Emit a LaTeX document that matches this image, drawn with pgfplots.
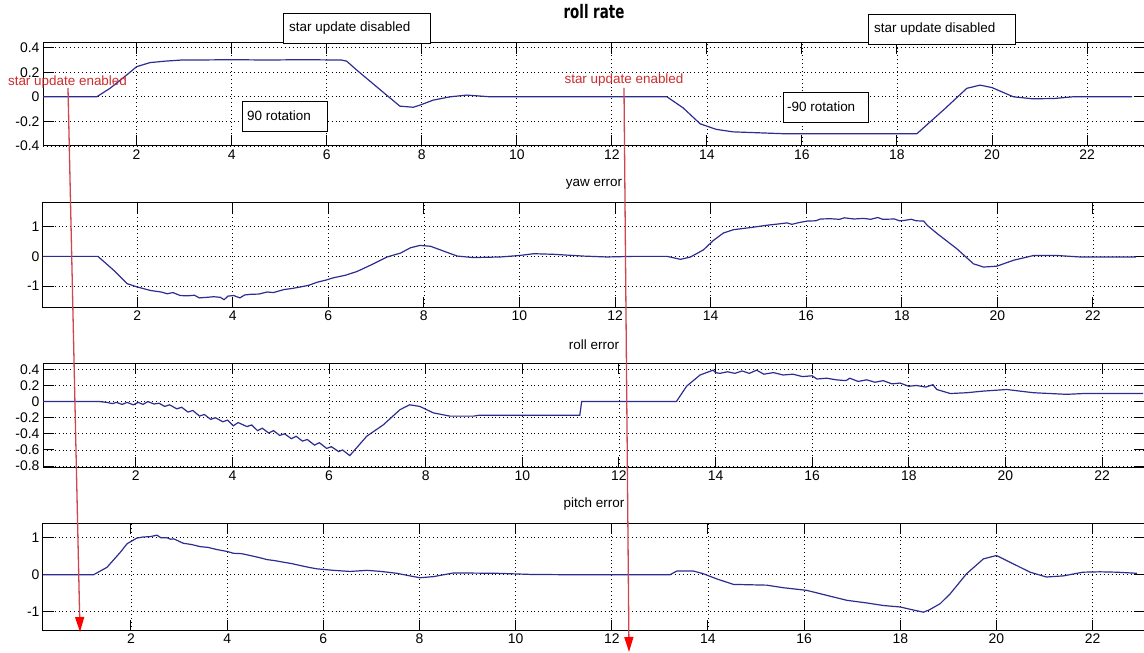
\documentclass[border=0pt]{standalone}
\usepackage{fontspec}
\setmainfont{Liberation Sans}
\newfontfamily\titlefont{DejaVu Sans Condensed}
\usepackage{pgfplots}
\pgfplotsset{compat=1.18}
\usetikzlibrary{arrows.meta}
\definecolor{navy}{RGB}{45,45,145}
\definecolor{annred}{RGB}{205,45,45}
\definecolor{arrowline}{RGB}{205,70,80}

\pgfplotsset{
  mstyle/.style={
    scale only axis, width=1102bp,
    axis line style={black,line width=1bp},
    every tick/.style={black,line width=1bp},
    major tick length=11bp,
    tick align=inside,
    xtick={2,4,...,22},
    xticklabels={2,4,6,8,10,12,14,16,18,20,22},
    grid=major,
    major grid style={black,line width=0.7bp,dash pattern=on 0.9bp off 3bp},
    tick label style={font=\fontsize{14}{16}\selectfont},
    title style={font=\fontsize{13.5}{16}\selectfont, yshift=4bp},
    /pgf/number format/assume math mode=true,
    anchor=south west,
  },
  dline/.style={navy, line width=1.2bp, no marks},
}

\begin{document}
\begin{tikzpicture}
\useasboundingbox (0bp,0bp) rectangle (1144bp,653bp);

% ---- roll rate ----
\begin{axis}[mstyle, at={(43bp,507bp)}, height=103.3bp,
  xmin=0.03, xmax=23.22, ymin=-0.4, ymax=0.44,
  ytick={-0.4,-0.2,0,0.2,0.4}, yticklabels={-0.4,-0.2,0,0.2,0.4},
  title={\titlefont\bfseries\scalebox{0.88}[1.1]{roll rate}},
  title style={font=\fontsize{17}{20}\selectfont, yshift=10bp}]
\addplot[dline] coordinates {
(0,0) (1.16,0) (1.44,0.069) (1.79,0.177) (2.0,0.245) (2.28,0.278) (2.6,0.29) (2.98,0.3)
(3.5,0.3) (4.0,0.302) (4.5,0.3) (5.0,0.3) (5.5,0.302) (6.0,0.3) (6.3,0.3)
(6.42,0.29) (6.63,0.218) (7.26,0.014) (7.54,-0.076) (7.82,-0.085) (7.96,-0.068)
(8.24,-0.027) (8.6,0) (8.95,0.014) (9.44,0) (13.16,0) (13.5,-0.09) (13.86,-0.22)
(14.2,-0.265) (14.55,-0.285) (15.25,-0.295) (15.6,-0.3) (18.42,-0.3) (19.0,-0.1)
(19.47,0.069) (19.75,0.095) (20.0,0.075) (20.45,0.0) (20.85,-0.016) (21.3,-0.014)
(21.7,0) (22.95,0)
};
\end{axis}

% ---- yaw error ----
\begin{axis}[mstyle, at={(43bp,345.3bp)}, height=105bp,
  xmin=0.03, xmax=23.09, ymin=-1.73, ymax=1.81,
  ytick={-1,0,1}, yticklabels={-1,0,1},
  title={yaw error}]
\addplot[dline] coordinates {
(0,0) (1.18,0) (1.51,-0.47) (1.79,-0.92) (2.0,-1.03) (2.28,-1.15) (2.5,-1.2) (2.63,-1.26)
(2.75,-1.22) (2.9,-1.32) (3.05,-1.33) (3.2,-1.31) (3.3,-1.4) (3.46,-1.38) (3.6,-1.36)
(3.74,-1.38) (3.82,-1.46) (3.9,-1.34) (4.02,-1.32) (4.15,-1.4) (4.25,-1.3) (4.37,-1.28)
(4.55,-1.27) (4.72,-1.2) (4.85,-1.22) (5.07,-1.12) (5.25,-1.08) (5.42,-1.03) (5.6,-0.97)
(5.77,-0.87) (5.95,-0.8) (6.11,-0.72) (6.35,-0.64) (6.6,-0.51) (6.88,-0.3) (7.23,-0.02)
(7.51,0.11) (7.72,0.29) (7.92,0.37) (8.14,0.34) (8.41,0.18) (8.7,0.01) (9.04,-0.04)
(9.6,-0.02) (10.0,0.03) (10.3,0.09) (10.71,0.07) (11.34,0.01) (11.83,-0.02) (12.38,0)
(13.09,0) (13.37,-0.1) (13.58,-0.02) (13.85,0.22) (14.06,0.54) (14.27,0.79) (14.48,0.9)
(14.83,0.97) (15.18,1.05) (15.46,1.1) (15.6,1.13) (15.7,1.08) (15.85,1.14) (16.02,1.19)
(16.2,1.2) (16.3,1.26) (16.5,1.27) (16.7,1.25) (16.8,1.3) (17.0,1.26) (17.2,1.28)
(17.35,1.25) (17.5,1.31) (17.6,1.25) (17.85,1.26) (17.95,1.2) (18.04,1.21) (18.2,1.25)
(18.3,1.2) (18.46,1.19) (18.53,1.05) (18.74,0.77) (19.15,0.26) (19.5,-0.25) (19.71,-0.36)
(19.99,-0.33) (20.34,-0.13) (20.76,0.03) (21.25,0.03) (21.73,-0.02) (22.9,-0.02)
};
\end{axis}

% ---- roll error ----
\begin{axis}[mstyle, at={(43bp,185.3bp)}, height=104.4bp,
  xmin=0.08, xmax=22.89, ymin=-0.82, ymax=0.475,
  ytick={-0.8,-0.6,-0.4,-0.2,0,0.2,0.4},
  yticklabels={-0.8,-0.6,-0.4,-0.2,0,0.2,0.4},
  title={roll error}]
\addplot[dline] coordinates {
(0,0) (1.25,0) (1.4,-0.01) (1.52,-0.025) (1.6,-0.01) (1.72,-0.035) (1.82,-0.01)
(1.95,-0.04) (2.05,-0.01) (2.15,-0.035) (2.25,0.0) (2.38,-0.03) (2.48,-0.02) (2.6,-0.06)
(2.7,-0.04) (2.85,-0.09) (2.95,-0.07) (3.08,-0.13) (3.18,-0.11) (3.32,-0.18) (3.42,-0.16)
(3.55,-0.22) (3.65,-0.2) (3.8,-0.25) (3.9,-0.23) (4.02,-0.3) (4.12,-0.26) (4.3,-0.31)
(4.4,-0.29) (4.52,-0.36) (4.62,-0.33) (4.75,-0.39) (4.85,-0.36) (4.98,-0.42) (5.08,-0.4)
(5.22,-0.46) (5.32,-0.43) (5.45,-0.49) (5.55,-0.47) (5.7,-0.54) (5.8,-0.51) (5.95,-0.58)
(6.05,-0.56) (6.2,-0.62) (6.28,-0.6) (6.43,-0.67) (6.78,-0.43) (7.12,-0.29) (7.47,-0.1)
(7.67,-0.04) (7.88,-0.06) (8.16,-0.14) (8.5,-0.18) (9.0,-0.18) (9.1,-0.17) (10.0,-0.17)
(10.9,-0.17) (11.19,-0.17) (11.23,0) (13.19,0) (13.4,0.19) (13.68,0.33) (13.95,0.39)
(14.0,0.36) (14.09,0.35) (14.25,0.37) (14.4,0.35) (14.55,0.38) (14.7,0.35) (14.85,0.39)
(15.0,0.34) (15.2,0.36) (15.4,0.33) (15.6,0.34) (15.8,0.31) (16.0,0.32) (16.1,0.28)
(16.3,0.29) (16.5,0.27) (16.7,0.26) (16.78,0.29) (16.95,0.25) (17.13,0.27) (17.3,0.24)
(17.47,0.26) (17.65,0.22) (17.82,0.23) (18.0,0.19) (18.16,0.2) (18.35,0.18) (18.5,0.21)
(18.58,0.15) (18.86,0.1) (19.2,0.11) (19.54,0.13) (20.03,0.15) (20.3,0.13) (20.58,0.11)
(21.27,0.09) (21.62,0.1) (22.85,0.1)
};
\end{axis}

% ---- pitch error ----
\begin{axis}[mstyle, at={(43bp,22.3bp)}, height=107.4bp,
  xmin=0.17, xmax=23.09, ymin=-1.51, ymax=1.39,
  ytick={-1,0,1}, yticklabels={-1,0,1},
  title={pitch error}]
\addplot[dline] coordinates {
(0,0) (1.22,0) (1.5,0.2) (1.78,0.61) (1.92,0.84) (2.12,0.99) (2.25,1.02) (2.4,1.03)
(2.54,1.07) (2.62,1.0) (2.75,1.0) (2.82,0.96) (2.89,0.97) (3.09,0.85) (3.25,0.82)
(3.44,0.76) (3.6,0.74) (3.79,0.68) (4.0,0.63) (4.13,0.58) (4.3,0.57) (4.48,0.52)
(4.65,0.47) (4.83,0.41) (5.0,0.38) (5.17,0.34) (5.35,0.3) (5.52,0.25) (5.7,0.2)
(5.87,0.16) (6.21,0.12) (6.56,0.09) (6.91,0.12) (7.2,0.09) (7.53,0.04) (7.8,-0.03)
(8.01,-0.08) (8.29,-0.05) (8.71,0.05) (9.61,0.04) (10.3,0.01) (11.2,0) (13.21,0)
(13.35,0.1) (13.7,0.1) (13.9,0.03) (14.18,-0.11) (14.53,-0.26) (15.22,-0.28) (15.57,-0.35)
(16.05,-0.42) (16.3,-0.5) (16.61,-0.6) (16.89,-0.69) (17.3,-0.76) (17.65,-0.83) (18.0,-0.87)
(18.2,-0.93) (18.48,-1.01) (18.6,-0.95) (18.83,-0.78) (19.04,-0.51) (19.38,0.03)
(19.73,0.43) (20.0,0.52) (20.28,0.34) (20.7,0.07) (21.04,-0.06) (21.39,-0.03) (21.8,0.07)
(22.15,0.08) (22.5,0.07) (22.92,0.04)
};
\end{axis}

% ---- annotations ----
\tikzset{lbl/.style={anchor=west, inner sep=0pt, font=\fontsize{13.5}{16}\selectfont}}
\draw[black, line width=0.9bp, fill=white] (283bp,610bp) rectangle (430bp,640bp);
\node[lbl] at (289bp,625bp) {star update disabled};
\draw[black, line width=0.9bp, fill=white] (868bp,609bp) rectangle (1015bp,639bp);
\node[lbl] at (874bp,624bp) {star update disabled};
\draw[black, line width=0.9bp, fill=white] (242bp,522bp) rectangle (327bp,552bp);
\node[lbl] at (247bp,537bp) {90 rotation};
\draw[black, line width=0.9bp, fill=white] (783bp,531bp) rectangle (868bp,561bp);
\node[lbl] at (787bp,546bp) {-90 rotation};

\node[font=\fontsize{13.5}{16}\selectfont, text=annred, inner sep=0pt] at (67.5bp,571bp) {star update enabled};
\node[font=\fontsize{13.5}{16}\selectfont, text=annred, inner sep=0pt] at (624bp,573bp) {star update enabled};
\draw[arrowline, line width=1.3bp, -{Triangle[length=15bp,width=9bp,color=red,fill=red]}] (68bp,565bp) -- (80bp,21bp);
\draw[arrowline, line width=1.3bp, -{Triangle[length=15bp,width=9bp,color=red,fill=red]}] (624bp,565bp) -- (629bp,1bp);
\end{tikzpicture}
\end{document}
